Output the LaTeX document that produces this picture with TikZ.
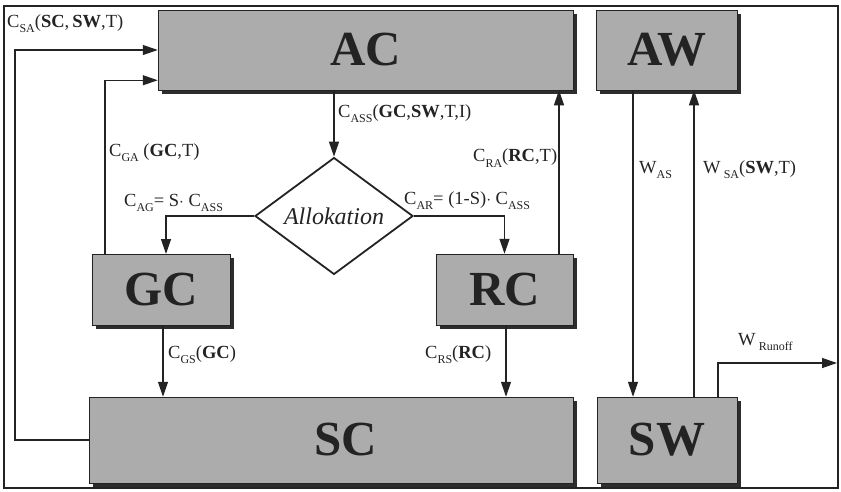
\documentclass[tikz,border=0pt]{standalone}
\usepackage{fontspec}
\setmainfont{Liberation Serif}
\usetikzlibrary{arrows.meta,shapes.geometric,shadows,calc}
\definecolor{boxgray}{RGB}{172,172,172}
\definecolor{shade}{RGB}{45,45,45}
\definecolor{ink}{RGB}{35,35,35}
\newcommand\lsub[1]{\raisebox{-0.28em}{\fontsize{12}{12}\selectfont #1}}
\begin{document}
\begin{tikzpicture}[x=1pt,y=-1pt,
  every node/.style={text=ink,inner sep=0pt},
  box/.style={draw=ink,line width=0.5pt,fill=boxgray,rectangle,
     drop shadow={shadow xshift=3.5pt,shadow yshift=-3.5pt,fill=shade,opacity=1},
     font=\fontsize{49}{49}\selectfont\bfseries},
  arr/.style={draw=ink,line width=1.3pt,-{Triangle[length=15pt,width=10pt]}},
  lbl/.style={anchor=west,font=\fontsize{18.5}{18.5}\selectfont},
  frame/.style={draw=ink,line width=1.6pt}
]
\useasboundingbox (0,0) rectangle (841,491);
\draw[frame] (4,6) rectangle (838,488);

% boxes
\node[box,minimum width=415pt,minimum height=80pt] (AC) at (365.5,50) {AC};
\node[box,minimum width=141pt,minimum height=80pt] (AW) at (666.5,50) {AW};
\node[box,minimum width=138pt,minimum height=71pt] (GC) at (161,289.5) {GC};
\node[box,minimum width=137pt,minimum height=71pt] (RC) at (504.5,289.5) {RC};
\node[box,minimum width=484pt,minimum height=86pt] (SC) at (331,440) {\hspace*{30pt}SC};
\node[box,minimum width=140pt,minimum height=86pt] (SW) at (667,440) {SW};

% diamond
\node[diamond,draw=ink,line width=1.8pt,fill=white,minimum width=158pt,minimum height=82pt,
  font=\fontsize{24}{24}\selectfont\itshape] (D) at (334,216) {Allokation};

% helper coordinates
\coordinate (saL) at (15,300);
\coordinate (runoff) at (837,363);
\coordinate (gaS) at (105,254);
\coordinate (raS) at (559,254);
\coordinate (asT) at (633,90);
\coordinate (saS) at (694,397);
\coordinate (roS) at (718,397);
\coordinate (gsT) at (163,325);
\coordinate (rsT) at (506,325);
\coordinate (agE) at (166,254);

% connectors
\draw[arr] (AC.south -| D.north) -- (D.north);
\draw[arr] (D.west) -| (agE);
\draw[arr] (D.east) -| (RC.north);
\draw[arr] (gaS) |- ($(AC.south west)+(0,-10)$);
\draw[arr] (SC.west) -| (saL) |- (AC.west);
\draw[arr] (raS) -- (raS |- AC.south);
\draw[arr] (asT) -- (asT |- SW.north);
\draw[arr] (saS) -- (saS |- AW.south);
\draw[arr] (roS) |- (runoff);
\draw[arr] (gsT) -- (gsT |- SC.north);
\draw[arr] (rsT) -- (rsT |- SC.north);

% labels
\node[lbl] (l1) at (7,24) {C\lsub{SA}(\textbf{SC},\,\textbf{SW},T)};
\node[lbl] (l2) at (338,114) {C\lsub{ASS}(\textbf{GC},\textbf{SW},T,I)};
\node[lbl] (l3) at (109,153) {C\lsub{GA} (\textbf{GC},T)};
\node[lbl] (l4) at (124,203) {C\lsub{AG}= S$\cdot$ C\lsub{ASS}};
\node[lbl] (l5) at (404,201) {C\lsub{AR}= (1-S)$\cdot$ C\lsub{ASS}};
\node[lbl] (l6) at (473,158) {C\lsub{RA}(\textbf{RC},T)};
\node[lbl] (l7) at (639,170) {W\lsub{AS}};
\node[lbl] (l8) at (703,170) {W\,\lsub{SA}(\textbf{SW},T)};
\node[lbl] (l9) at (168,355) {C\lsub{GS}(\textbf{GC})};
\node[lbl] (l10) at (425,355) {C\lsub{RS}(\textbf{RC})};
\node[lbl] (l11) at (738,342) {W\,\lsub{Runoff}};
\end{tikzpicture}
\end{document}
